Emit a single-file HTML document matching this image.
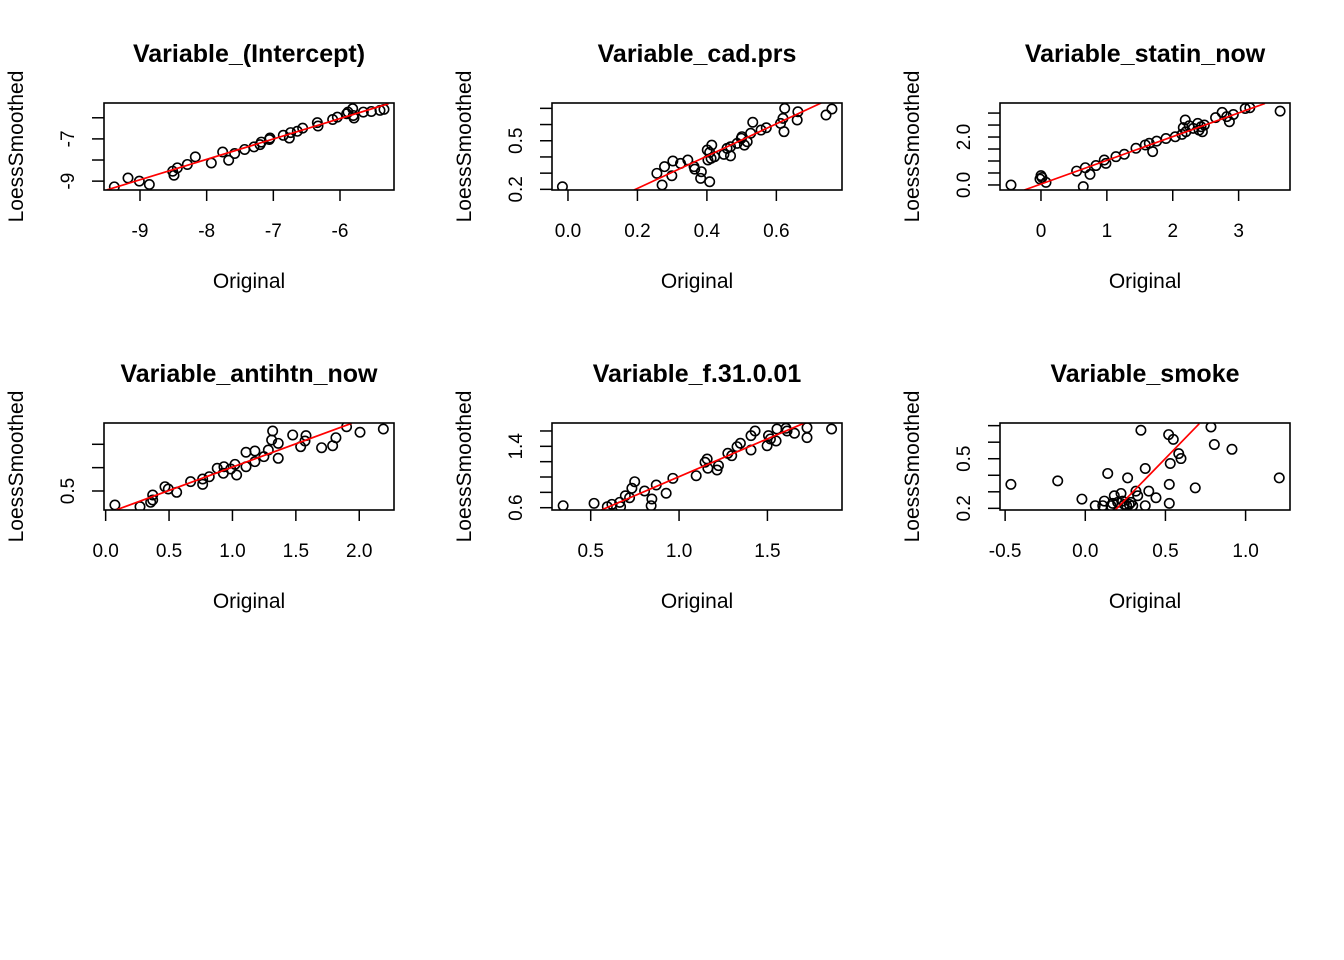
<!DOCTYPE html>
<html><head><meta charset="utf-8"><style>
html,body{margin:0;padding:0;background:#fff;}
svg{display:block;font-family:"Liberation Sans",Arial,sans-serif;}
</style></head><body>
<svg id="chart" width="1344" height="960" viewBox="0 0 1344 960"></svg>
<script>
// ---- data (Original x, LoessSmoothed y) ----
const p1x=[-9.385,-9.18,-9.01,-8.86,-8.51,-8.49,-8.44,-8.29,-8.17,-7.93,-7.76,-7.67,-7.58,-7.43,-7.29,-7.20,-7.18,-7.06,-7.05,-6.85,-6.76,-6.74,-6.64,-6.56,-6.34,-6.33,-6.11,-6.04,-5.90,-5.88,-5.81,-5.79,-5.65,-5.53,-5.40,-5.34,-5.80];
const p1y=[-9.27,-8.85,-9.0,-9.16,-8.53,-8.72,-8.37,-8.21,-7.85,-8.14,-7.62,-8.01,-7.69,-7.50,-7.38,-7.27,-7.15,-7.03,-6.96,-6.83,-6.96,-6.70,-6.64,-6.49,-6.23,-6.39,-6.08,-5.97,-5.81,-5.73,-5.57,-6.01,-5.73,-5.70,-5.65,-5.60,-5.89];
const p1line=[[-9.5,-9.42],[-5.27,-5.33]];
const p2x=[-0.016,0.256,0.278,0.271,0.302,0.299,0.324,0.345,0.363,0.365,0.384,0.382,0.408,0.401,0.408,0.414,0.403,0.412,0.422,0.449,0.458,0.468,0.468,0.487,0.499,0.501,0.508,0.516,0.526,0.532,0.556,0.571,0.612,0.619,0.622,0.624,0.662,0.660,0.743,0.760];
const p2y=[0.216,0.299,0.340,0.227,0.375,0.284,0.360,0.381,0.340,0.325,0.309,0.268,0.247,0.443,0.428,0.473,0.381,0.391,0.401,0.416,0.453,0.407,0.463,0.484,0.515,0.525,0.473,0.494,0.546,0.614,0.566,0.580,0.607,0.638,0.556,0.700,0.679,0.628,0.659,0.696];
const p2line=[[0.19,0.196],[0.729,0.733]];
const p3x=[-0.455,0.0,-0.015,0.015,0.076,0.642,0.541,0.673,0.744,0.835,0.961,0.986,1.138,1.265,1.442,1.584,1.644,1.695,1.756,1.897,2.038,2.14,2.16,2.19,2.20,2.25,2.31,2.38,2.40,2.43,2.45,2.48,2.65,2.75,2.82,2.86,2.92,3.10,3.17,3.63];
const p3y=[0,0.39,0.25,0.31,0.11,-0.07,0.58,0.72,0.44,0.81,1.04,0.90,1.18,1.28,1.53,1.67,1.74,1.39,1.83,1.94,2.01,2.11,2.39,2.71,2.22,2.47,2.36,2.57,2.29,2.43,2.22,2.5,2.81,3.03,2.85,2.64,2.94,3.19,3.22,3.08];
const p3line=[[-0.253,-0.21],[3.40,3.40]];
const p4x=[0.073,0.271,0.355,0.371,0.371,0.468,0.494,0.560,0.670,0.765,0.765,0.817,0.880,0.928,0.933,0.986,1.020,1.033,1.107,1.107,1.177,1.177,1.248,1.283,1.309,1.317,1.361,1.361,1.475,1.538,1.572,1.580,1.703,1.790,1.816,1.90,2.006,2.19];
const p4y=[0.20,0.164,0.258,0.307,0.414,0.592,0.543,0.472,0.70,0.643,0.757,0.806,0.986,0.879,1.02,0.971,1.071,0.843,1.329,1.02,1.357,1.128,1.235,1.378,1.592,1.785,1.521,1.2,1.70,1.449,1.571,1.685,1.427,1.47,1.641,1.877,1.757,1.828];
const p4line=[[0.081,0.093],[1.94,1.95]];
const p5x=[0.344,0.519,0.594,0.620,0.664,0.669,0.696,0.720,0.733,0.749,0.805,0.846,0.842,0.871,0.927,0.965,1.097,1.147,1.159,1.163,1.215,1.223,1.276,1.298,1.328,1.347,1.407,1.407,1.430,1.498,1.506,1.517,1.549,1.554,1.605,1.611,1.653,1.724,1.724,1.863];
const p5y=[0.626,0.657,0.613,0.644,0.670,0.613,0.756,0.730,0.853,0.939,0.818,0.713,0.626,0.896,0.788,0.983,1.017,1.192,1.235,1.114,1.091,1.148,1.309,1.278,1.395,1.44,1.352,1.539,1.60,1.408,1.539,1.496,1.47,1.626,1.635,1.60,1.57,1.643,1.513,1.626];
const p5line=[[0.56,0.57],[1.705,1.70]];
const p6x=[-0.464,-0.172,-0.021,0.062,0.109,0.119,0.140,0.171,0.181,0.223,0.233,0.243,0.264,0.274,0.285,0.316,0.327,0.374,0.374,0.396,0.441,0.524,0.524,0.530,0.520,0.549,0.583,0.597,0.686,0.784,0.805,0.915,1.21,0.347,0.202,0.258,0.296,0.160];
const p6y=[0.345,0.366,0.256,0.216,0.216,0.244,0.411,0.230,0.276,0.290,0.244,0.224,0.384,0.224,0.236,0.304,0.276,0.441,0.216,0.304,0.264,0.230,0.345,0.471,0.646,0.617,0.531,0.501,0.324,0.692,0.586,0.557,0.384,0.672,0.236,0.216,0.216,0.216];
const p6line=[[0.187,0.19],[0.711,0.712]];

// ---- ticks ----
const p1xt=[-9,-8,-7,-6], p1xl=["-9","-8","-7","-6"], p1yt=[-9,-8,-7,-6], p1yl=["-9","","-7",""];
const p2xt=[0,0.2,0.4,0.6], p2xl=["0.0","0.2","0.4","0.6"], p2yt=[0.2,0.3,0.4,0.5,0.6,0.7], p2yl=["0.2","","","0.5","",""];
const p3xt=[0,1,2,3], p3xl=["0","1","2","3"], p3yt=[0,0.5,1,1.5,2,2.5,3], p3yl=["0.0","","","","2.0","",""];
const p4xt=[0,0.5,1,1.5,2], p4xl=["0.0","0.5","1.0","1.5","2.0"], p4yt=[0.5,1,1.5], p4yl=["0.5","",""];
const p5xt=[0.5,1,1.5], p5xl=["0.5","1.0","1.5"], p5yt=[0.6,0.8,1.0,1.2,1.4,1.6], p5yl=["0.6","","","","1.4",""];
const p6xt=[-0.5,0,0.5,1], p6xl=["-0.5","0.0","0.5","1.0"], p6yt=[0.2,0.3,0.4,0.5,0.6,0.7], p6yl=["0.2","","","0.5","",""];

const NS="http://www.w3.org/2000/svg";
const svg=document.getElementById('chart');
function mk(tag,attrs,parent){const e=document.createElementNS(NS,tag);for(const k in attrs)e.setAttribute(k,attrs[k]);(parent||svg).appendChild(e);return e;}

const panels=[
 {t:"Variable_(Intercept)",L:104,T:103,xl:[-9.54,-5.19],yl:[-9.42,-5.3],x:p1x,y:p1y,ln:p1line,xt:p1xt,xtl:p1xl,yt:p1yt,ytl:p1yl,k:"intercept"},
 {t:"Variable_cad.prs",L:552,T:103,xl:[-0.046,0.789],yl:[0.196,0.733],x:p2x,y:p2y,ln:p2line,xt:p2xt,xtl:p2xl,yt:p2yt,ytl:p2yl,k:"cad-prs"},
 {t:"Variable_statin_now",L:1000,T:103,xl:[-0.622,3.78],yl:[-0.21,3.42],x:p3x,y:p3y,ln:p3line,xt:p3xt,xtl:p3xl,yt:p3yt,ytl:p3yl,k:"statin-now"},
 {t:"Variable_antihtn_now",L:104,T:423,xl:[-0.013,2.274],yl:[0.093,1.956],x:p4x,y:p4y,ln:p4line,xt:p4xt,xtl:p4xl,yt:p4yt,ytl:p4yl,k:"antihtn-now"},
 {t:"Variable_f.31.0.01",L:552,T:423,xl:[0.281,1.922],yl:[0.57,1.704],x:p5x,y:p5y,ln:p5line,xt:p5xt,xtl:p5xl,yt:p5yt,ytl:p5yl,k:"f-31-0-01"},
 {t:"Variable_smoke",L:1000,T:423,xl:[-0.532,1.277],yl:[0.19,0.716],x:p6x,y:p6y,ln:p6line,xt:p6xt,xtl:p6xl,yt:p6yt,ytl:p6yl,k:"smoke"}
];
const W=290,H=87;
panels.forEach(p=>{
  const g=mk('g',{});
  
  
  const sx=v=>p.L+(v-p.xl[0])/(p.xl[1]-p.xl[0])*W;
  const sy=v=>p.T+H-(v-p.yl[0])/(p.yl[1]-p.yl[0])*H;
  const cx=p.L+W/2, cy=p.T+H/2;
  const t=mk('text',{x:cx,y:p.T-41,'text-anchor':'middle','font-size':'25','font-weight':'bold'},g);t.textContent=p.t;
  
  const xl=mk('text',{x:cx,y:p.T+185,'text-anchor':'middle','font-size':'21'},g);xl.textContent="Original";
  
  const yl=mk('text',{x:0,y:0,'text-anchor':'middle','font-size':'21',transform:`translate(${p.L-81},${cy}) rotate(-90)`},g);yl.textContent="LoessSmoothed";
  
  const clip=mk('clipPath',{id:'c'+p.k},g);mk('rect',{x:p.L,y:p.T,width:W,height:H},clip);
  const xa=mk('g',{},g);
  p.xt.forEach((v,i)=>{mk('line',{x1:sx(v),x2:sx(v),y1:p.T+H,y2:p.T+H+11,stroke:'#000','stroke-width':1.5},xa);
    const tx=mk('text',{x:sx(v),y:p.T+H+47,'text-anchor':'middle','font-size':'19'},xa);tx.textContent=p.xtl[i];});
  const ya=mk('g',{},g);
  p.yt.forEach((v,i)=>{mk('line',{x1:p.L,x2:p.L-12,y1:sy(v),y2:sy(v),stroke:'#000','stroke-width':1.5},ya);
    if(p.ytl[i]){const tx=mk('text',{x:0,y:0,'text-anchor':'middle','font-size':'19',transform:`translate(${p.L-30},${sy(v)}) rotate(-90)`},ya);tx.textContent=p.ytl[i];}});
  const pts=mk('g',{'clip-path':`url(#c${p.k})`},g);
  p.x.forEach((v,i)=>{const c=mk('circle',{cx:sx(v),cy:sy(p.y[i]),r:4.7,fill:'none',stroke:'#000','stroke-width':1.6},pts);
    });
  const l=mk('line',{x1:sx(p.ln[0][0]),y1:sy(p.ln[0][1]),x2:sx(p.ln[1][0]),y2:sy(p.ln[1][1]),stroke:'#ff0000','stroke-width':1.7,'clip-path':`url(#c${p.k})`},g);
  
  const b=mk('rect',{x:p.L,y:p.T,width:W,height:H,fill:'none',stroke:'#000','stroke-width':1.6},g);
  
});
</script>
</body></html>
